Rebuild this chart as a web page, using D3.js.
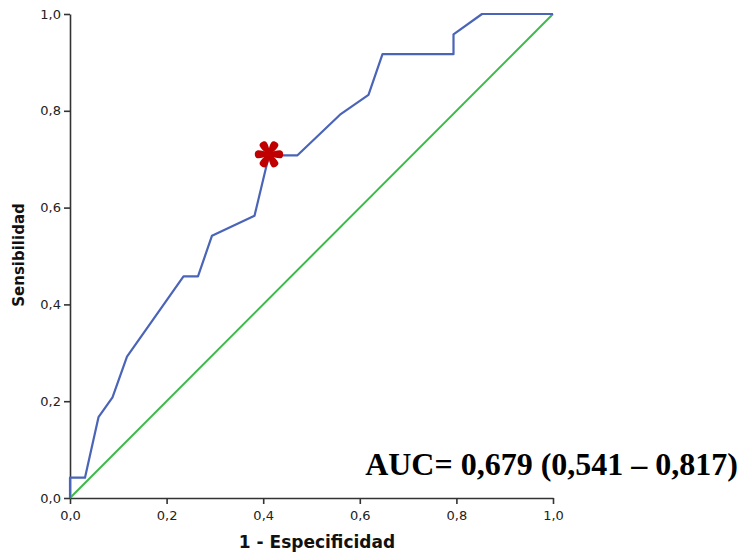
<!DOCTYPE html>
<html>
<head>
<meta charset="utf-8">
<script src="https://cdn.jsdelivr.net/npm/d3@7"></script>
<style>
  body { margin: 0; background: #fff; }
  .axis path, .axis line { stroke: #333; stroke-width: 1.6px; }
  .axis text { font-family: "DejaVu Sans", sans-serif; font-size: 13px; fill: #222; }
</style>
</head>
<body>
<div id="chart-area"></div>
<script>
// ROC curve points (1 - specificity, sensitivity)
const fpr = [0, 0, 0.031, 0.059, 0.088, 0.118, 0.235, 0.265, 0.294, 0.382, 0.412, 0.471, 0.559, 0.618, 0.647, 0.794, 0.794, 0.853, 1.0]
const tpr = [0, 0.042, 0.042, 0.167, 0.208, 0.292, 0.458, 0.458, 0.542, 0.583, 0.708, 0.708, 0.792, 0.833, 0.917, 0.917, 0.958, 1.0, 1.0]
// reference diagonal
const diagX = [0, 1]
const diagY = [0, 1]
// chosen cut-off point
const cutX = [0.412]
const cutY = [0.708]
const ticks = [0, 0.2, 0.4, 0.6, 0.8, 1.0]
const aucLabel = "AUC= 0,679 (0,541 \u2013 0,817)"

const WIDTH = 741
const HEIGHT = 556
const PLOT = { LEFT: 70, RIGHT: 553, TOP: 14, BOTTOM: 498 }

const svg = d3.select("#chart-area").append("svg")
  .attr("width", WIDTH)
  .attr("height", HEIGHT)

const x = d3.scaleLinear().domain([0, 1]).range([PLOT.LEFT, PLOT.RIGHT])
const y = d3.scaleLinear().domain([0, 1]).range([PLOT.BOTTOM, PLOT.TOP])

const fmt = d => d3.format(".1f")(d).replace(".", ",")

// axes
svg.append("g")
  .attr("class", "axis")
  .attr("transform", `translate(0, ${PLOT.BOTTOM})`)
  .call(d3.axisBottom(x).tickValues(ticks).tickFormat(fmt).tickSize(6).tickSizeOuter(0).tickPadding(7))

svg.append("g")
  .attr("class", "axis")
  .attr("transform", `translate(${PLOT.LEFT}, 0)`)
  .call(d3.axisLeft(y).tickValues(ticks).tickFormat(fmt).tickSize(6).tickSizeOuter(0).tickPadding(3))

// axis titles
svg.append("text")
  .attr("x", 317)
  .attr("y", 548)
  .attr("text-anchor", "middle")
  .style("font-family", "DejaVu Sans, sans-serif")
  .style("font-weight", "bold")
  .style("font-size", "17px")
  .attr("fill", "#111")
  .text("1 - Especificidad")

svg.append("text")
  .attr("transform", `translate(24, 255) rotate(-90)`)
  .attr("text-anchor", "middle")
  .style("font-family", "DejaVu Sans, sans-serif")
  .style("font-weight", "bold")
  .style("font-size", "15px")
  .attr("fill", "#111")
  .text("Sensibilidad")

// diagonal
const line = d3.line().x(d => x(d[0])).y(d => y(d[1]))

svg.append("path")
  .attr("d", line(d3.zip(diagX, diagY)))
  .attr("fill", "none")
  .attr("stroke", "#3dba4a")
  .attr("stroke-width", 2)

// ROC curve
svg.append("path")
  .attr("d", line(d3.zip(fpr, tpr)))
  .attr("fill", "none")
  .attr("stroke", "#4a64b8")
  .attr("stroke-width", 2.2)
  .attr("stroke-linejoin", "round")

// cut-off marker: six teardrop arms
const star = svg.selectAll(".star")
  .data(d3.zip(cutX, cutY))
  .join("g")
  .attr("class", "star")
  .attr("transform", d => `translate(${x(d[0])}, ${y(d[1]) - 1}) scale(1.12)`)

star.selectAll("path")
  .data([30, 90, 150, 210, 270, 330])
  .join("path")
  .attr("d", "M-0.9,0 C-2.7,-4 -3.9,-8 -3.5,-10.5 C-3.1,-13.4 3.1,-13.4 3.5,-10.5 C3.9,-8 2.7,-4 0.9,0 Z")
  .attr("transform", a => `rotate(${a})`)
  .attr("fill", "#c00000")

// AUC annotation
svg.append("text")
  .attr("x", 738)
  .attr("y", 475)
  .attr("text-anchor", "end")
  .style("font-family", "Liberation Serif, Times New Roman, serif")
  .style("font-weight", "bold")
  .style("font-size", "32px")
  .attr("fill", "#000")
  .text(aucLabel)
</script>
</body>
</html>
